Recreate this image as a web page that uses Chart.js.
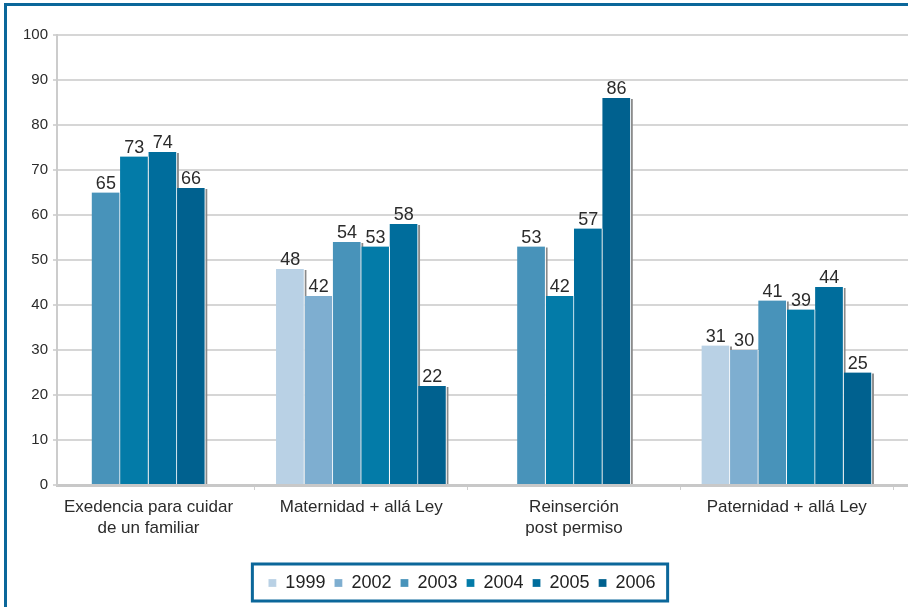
<!DOCTYPE html>
<html>
<head>
<meta charset="utf-8">
<script src="https://cdn.jsdelivr.net/npm/chart.js@4.4.1/dist/chart.umd.min.js"></script>
<style>
  html, body { margin: 0; padding: 0; background: #fff; }
  #wrap { position: relative; width: 908px; height: 607px; overflow: hidden; }
  #frame { position: absolute; left: 4px; top: 3px; width: 960px; height: 700px;
           border-left: 3px solid #0b679a; border-top: 3px solid #0b679a; pointer-events: none; }
  canvas { position: absolute; left: 0; top: 0; }
</style>
</head>
<body>
<div id="wrap">
  <canvas id="chart" width="908" height="607"></canvas>
  <div id="frame"></div>
</div>
<script>
const categories = [
  ['Exedencia para cuidar', 'de un familiar'],
  'Maternidad + allá Ley',
  ['Reinserción', 'post permiso'],
  'Paternidad + allá Ley'
];
const years = ['1999', '2002', '2003', '2004', '2005', '2006'];
const v1999 = [null, 48, null, 31];
const v2002 = [null, 42, null, 30];
const v2003 = [65, 54, 53, 41];
const v2004 = [73, 53, 42, 39];
const v2005 = [74, 58, 57, 44];
const v2006 = [66, 22, 86, 25];
const yTicks = [0, 10, 20, 30, 40, 50, 60, 70, 80, 90, 100];

const colors = ['#b9d1e5', '#7eaed0', '#4893ba', '#037ba8', '#006d9c', '#00618f'];
const series = [v1999, v2002, v2003, v2004, v2005, v2006];
const FONT = "'Liberation Sans', Arial, sans-serif";

// sombra gris a la derecha de cada barra
const shadowPlugin = {
  id: 'shadow',
  beforeDatasetsDraw(chart) {
    const ctx = chart.ctx;
    ctx.save();
    ctx.fillStyle = '#8a8a8a';
    chart.data.datasets.forEach((ds, i) => {
      chart.getDatasetMeta(i).data.forEach((bar, j) => {
        if (ds.data[j] == null) return;
        const right = bar.x + bar.width / 2;
        ctx.fillRect(right, bar.y + 1, 2, bar.base - bar.y - 1);
      });
    });
    ctx.restore();
  }
};

// numeros encima de las barras
const labelPlugin = {
  id: 'valueLabels',
  afterDatasetsDraw(chart) {
    const ctx = chart.ctx;
    ctx.save();
    ctx.font = '18px ' + FONT;
    ctx.fillStyle = '#2b2b2b';
    ctx.textAlign = 'center';
    ctx.textBaseline = 'alphabetic';
    chart.data.datasets.forEach((ds, i) => {
      chart.getDatasetMeta(i).data.forEach((bar, j) => {
        if (ds.data[j] == null) return;
        ctx.fillText(String(ds.data[j]), bar.x, bar.y - 4);
      });
    });
    ctx.restore();
  }
};

// recuadro azul de la leyenda
const legendBox = {
  id: 'legendBox',
  afterDraw(chart) {
    const boxes = chart.legend.legendHitBoxes;
    if (!boxes || !boxes.length) return;
    const left = Math.min(...boxes.map(b => b.left)) - 16;
    const right = Math.max(...boxes.map(b => b.left + b.width)) + 12;
    const top = boxes[0].top - 10;
    const bottom = boxes[0].top + boxes[0].height + 9;
    const ctx = chart.ctx;
    ctx.save();
    ctx.strokeStyle = '#0b679a';
    ctx.lineWidth = 3;
    ctx.strokeRect(left, top, right - left, bottom - top);
    ctx.restore();
  }
};

new Chart(document.getElementById('chart'), {
  type: 'bar',
  data: {
    labels: categories,
    datasets: series.map((d, i) => ({
      label: years[i],
      data: d,
      backgroundColor: colors[i],
      borderColor: '#ffffff',
      borderWidth: { left: 0, right: 1, top: 0, bottom: 0 },
      borderSkipped: false
    }))
  },
  options: {
    responsive: false,
    animation: false,
    skipNull: true,
    barThickness: 28.4,
    layout: { padding: { left: 16, right: 0, top: 35, bottom: 5 } },
    plugins: {
      legend: {
        position: 'bottom',
        labels: {
          boxWidth: 8,
          boxHeight: 8,
          padding: 9,
          color: '#222',
          font: { family: FONT, size: 18 }
        }
      },
      tooltip: { enabled: false }
    },
    scales: {
      x: {
        offset: true,
        afterBuildTicks: (scale) => { scale._startValue = -0.43; },
        afterFit: (scale) => { scale.height = 80; },
        grid: { drawOnChartArea: false, color: '#cfcfcf', tickLength: 5, lineWidth: 1 },
        border: { color: '#c8c8c8', width: 3 },
        ticks: { color: '#2b2b2b', padding: 7, font: { family: FONT, size: 17, lineHeight: 1.24 } }
      },
      y: {
        min: 0,
        max: 100,
        afterBuildTicks: (scale) => { scale.ticks = yTicks.map(v => ({ value: v })); },
        afterFit: (scale) => { scale.width = 41; },
        grid: { color: '#d6d6d6', lineWidth: 2, tickLength: 4 },
        border: { color: '#cccccc', width: 2 },
        ticks: { color: '#2b2b2b', padding: 5, font: { family: FONT, size: 15 } }
      }
    }
  },
  plugins: [shadowPlugin, labelPlugin, legendBox]
});
</script>
</body>
</html>
